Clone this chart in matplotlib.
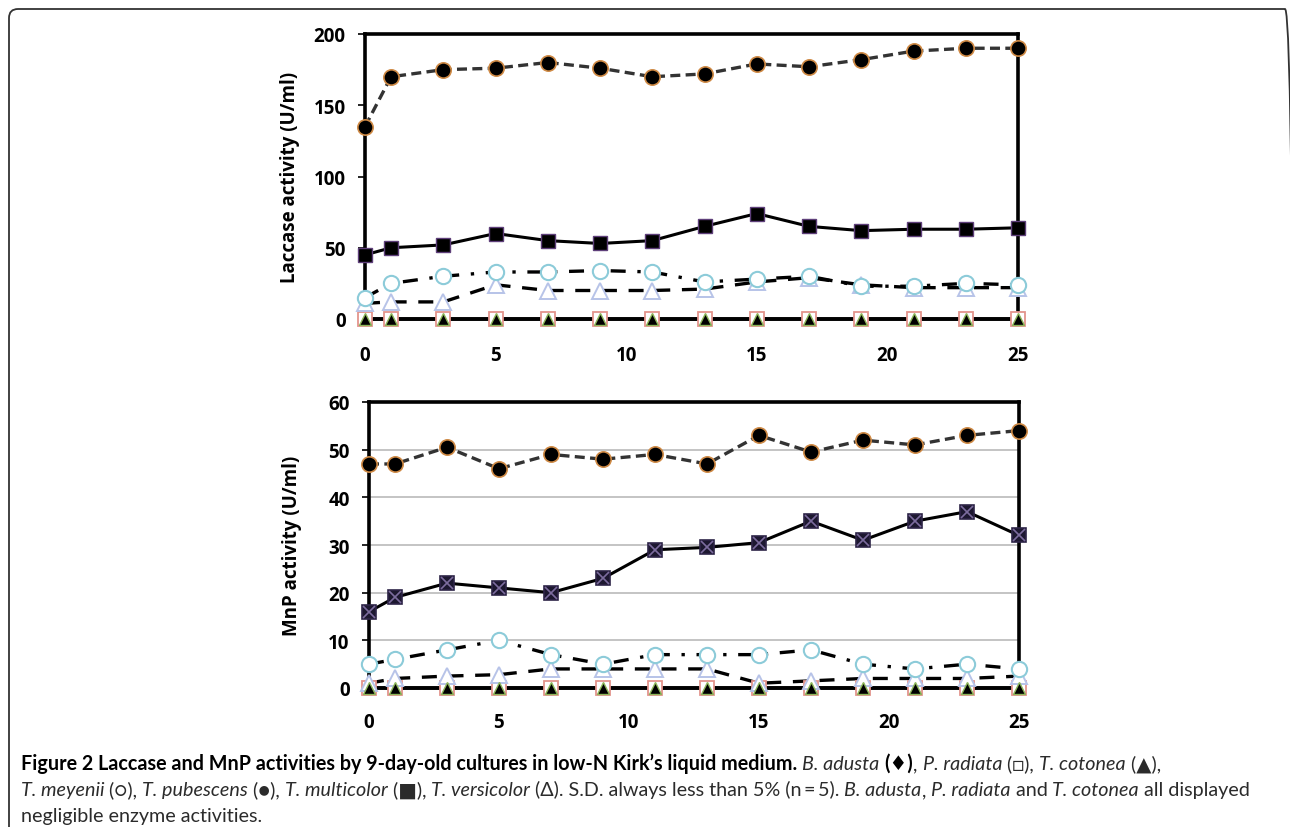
import matplotlib
matplotlib.use("Agg")
import matplotlib.pyplot as plt
import matplotlib.patches as mpatches
import matplotlib.transforms as mtransforms

# sampling days
days = [0, 1, 3, 5, 7, 9, 11, 13, 15, 17, 19, 21, 23, 25]

# laccase activity (U/ml)
lac_pubescens = [135, 170, 175, 176, 180, 176, 170, 172, 179, 177, 182, 188, 190, 190]
lac_multicolor = [45, 50, 52, 60, 55, 53, 55, 65, 74, 65, 62, 63, 63, 64]
lac_meyenii = [15, 25, 30, 33, 33, 34, 33, 26, 28, 30, 23, 23, 25, 24]
lac_versicolor = [11, 12, 12, 24, 20, 20, 20, 21, 26, 29, 24, 22, 22, 22]
lac_zero = [0] * 14

# MnP activity (U/ml)
mnp_pubescens = [47, 47, 50.5, 46, 49, 48, 49, 47, 53, 49.5, 52, 51, 53, 54]
mnp_multicolor = [16, 19, 22, 21, 20, 23, 29, 29.5, 30.5, 35, 31, 35, 37, 32]
mnp_meyenii = [5, 6, 8, 10, 7, 5, 7, 7, 7, 8, 5, 4, 5, 4]
mnp_versicolor = [1, 2, 2.5, 2.8, 4, 4, 4, 4, 1, 1.5, 2, 2, 2, 2.5]
mnp_zero = [0] * 14

lac_yticks = [0, 50, 100, 150, 200]
mnp_yticks = [0, 10, 20, 30, 40, 50, 60]
xticks = [0, 5, 10, 15, 20, 25]

CHART_FONT = ["Open Sans", "DejaVu Sans"]
CAP_FONT = ["Lato", "DejaVu Sans"]


def style_axes(ax, ymax, yticks, xpad):
    ax.set_xlim(0, 25)
    ax.set_ylim(0, ymax)
    ax.set_xticks(xticks)
    ax.set_yticks(yticks)
    for sp in ax.spines.values():
        sp.set_linewidth(2.6)
        sp.set_color("black")
        sp.set_zorder(1)
    ax.tick_params(axis="y", direction="out", length=5, width=1.2, pad=9)
    ax.tick_params(axis="x", length=0, pad=xpad)
    for lab in ax.get_xticklabels() + ax.get_yticklabels():
        lab.set_fontfamily(CHART_FONT)
        lab.set_fontweight("bold")
        lab.set_fontsize(13.5)


def plot_series(ax, pub, mult, mey, vers, zero, mnp=False):
    kw = dict(clip_on=False)
    # zero series (B. adusta, P. radiata, T. cotonea)
    ax.plot(days, zero, "-", color="black", lw=2.6, zorder=3, **kw)
    ax.plot(days, zero, "s", ms=10, mfc="white", mec="#e3948c", mew=1.3, zorder=4, **kw)
    ax.plot(days, zero, "^", ms=8, mfc="black", mec="#8db65a", mew=1.0, zorder=5, **kw)
    # T. versicolor
    ax.plot(days, vers, color="black", lw=2.4, dashes=(4.5, 3.5), zorder=3, **kw)
    ax.plot(days, vers, "^", ls="none", ms=11, mfc="white", mec="#b7c3e8", mew=1.4, zorder=4, **kw)
    # T. meyenii
    ax.plot(days, mey, color="black", lw=2.4, dashes=(4.5, 3.5, 1, 3.5), zorder=3, **kw)
    ax.plot(days, mey, "o", ls="none", ms=11, mfc="white", mec="#8ccbd9", mew=1.5, zorder=4, **kw)
    # T. multicolor
    ax.plot(days, mult, color="black", lw=2.2, zorder=3, **kw)
    if mnp:
        ax.plot(days, mult, "s", ls="none", ms=10, mfc="#1d1830", mec="#2e2548", mew=1.2, zorder=6, **kw)
        ax.plot(days, mult, "x", ls="none", ms=8, mec="#7c6c9e", mew=1.2, zorder=7, **kw)
    else:
        ax.plot(days, mult, "s", ls="none", ms=10.5, mfc="black", mec="#5e3f7a", mew=1.0, zorder=6, **kw)
    # T. pubescens
    ax.plot(days, pub, color="#333333", lw=2.4, dashes=(3, 1.6), zorder=3, **kw)
    ax.plot(days, pub, "o", ls="none", ms=11, mfc="black", mec="#cf8a45", mew=1.2, zorder=6, **kw)


fig = plt.figure(figsize=(12.9, 8.28), dpi=100)

ax1 = fig.add_axes([365 / 1290, 1 - 320 / 828, (1018 - 365) / 1290, (320 - 35) / 828])
plot_series(ax1, lac_pubescens, lac_multicolor, lac_meyenii, lac_versicolor, lac_zero)
style_axes(ax1, 200, lac_yticks, 19)
ax1.set_ylabel("Laccase activity (U/ml)", fontfamily=CHART_FONT, fontweight="bold",
               fontsize=13.5, labelpad=10)

ax2 = fig.add_axes([369 / 1290, 1 - 689 / 828, (1019 - 369) / 1290, (689 - 403) / 828])
for g in mnp_yticks[1:-1]:
    ax2.axhline(g, color="#c4c4c4", lw=1.4, zorder=0)
plot_series(ax2, mnp_pubescens, mnp_multicolor, mnp_meyenii, mnp_versicolor, mnp_zero, mnp=True)
style_axes(ax2, 60, mnp_yticks, 17)
ax2.set_ylabel("MnP activity (U/ml)", fontfamily=CHART_FONT, fontweight="bold",
               fontsize=13.5, labelpad=19)

# rounded frame around the figure panel (right side runs off the canvas)
H = 828
frame = mpatches.FancyBboxPatch((9, -30), 1285, H - 10 + 30,
                                boxstyle="round,pad=0,rounding_size=9",
                                transform=mtransforms.IdentityTransform(),
                                fill=False, ec="#333333", lw=1.3)
fig.add_artist(frame)

# caption, drawn as consecutive text runs
cap_lines = [
    [("Figure 2 Laccase and MnP activities by 9-day-old cultures in low-N Kirk\u2019s liquid medium.", "bold"),
     (" ", "normal"), ("B. adusta", "italic"), (" ", "normal"), ("(\u2666)", "bold"), (", ", "normal"),
     ("P. radiata", "italic"), (" (\u25a1), ", "normal"), ("T. cotonea", "italic"), (" (\u25b2),", "normal")],
    [("T. meyenii", "italic"), (" (\u25cb), ", "normal"), ("T. pubescens", "italic"), (" (\u25cf), ", "normal"),
     ("T. multicolor", "italic"), (" (\u25a0), ", "normal"), ("T. versicolor", "italic"),
     (" (\u0394). S.D. always less than 5% (n\u2009=\u20095). ", "normal"), ("B. adusta", "italic"),
     (", ", "normal"), ("P. radiata", "italic"), (" and ", "normal"), ("T. cotonea", "italic"),
     (" all displayed", "normal")],
    [("negligible enzyme activities.", "normal")],
]
cap_baselines = [770, 796, 822]

renderer = fig.canvas.get_renderer()
for runs, yy in zip(cap_lines, cap_baselines):
    x = 21
    for s, st in runs:
        t = fig.text(x, H - yy, s, transform=mtransforms.IdentityTransform(),
                     fontfamily=CAP_FONT, fontsize=14.2, va="baseline", ha="left",
                     fontweight="bold" if st == "bold" else "normal",
                     fontstyle="italic" if st == "italic" else "normal",
                     color="black" if st == "bold" else "#2b2b2b")
        x = t.get_window_extent(renderer).x1

fig.savefig("out.png", dpi=100)
